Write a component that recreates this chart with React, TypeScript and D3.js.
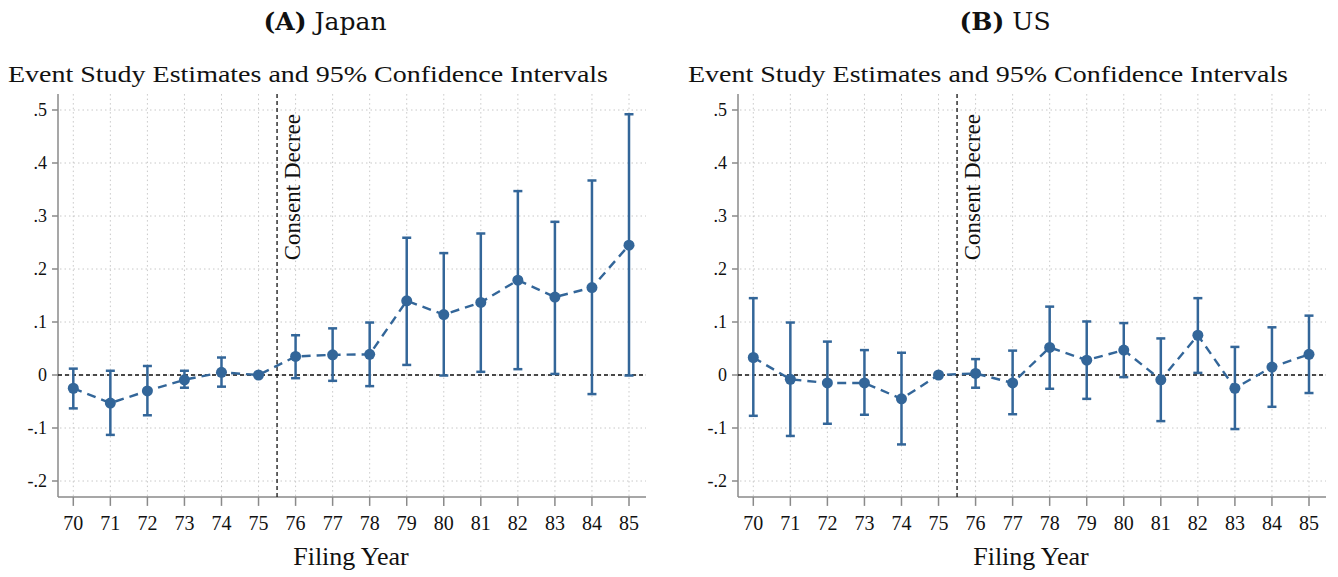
import React from "react";
import * as d3 from "d3";

const years = [70, 71, 72, 73, 74, 75, 76, 77, 78, 79, 80, 81, 82, 83, 84, 85];
const yTicks = [-0.2, -0.1, 0, 0.1, 0.2, 0.3, 0.4, 0.5];
const yTickLabels = ["-.2", "-.1", "0", ".1", ".2", ".3", ".4", ".5"];

const japanEst = [-0.025, -0.053, -0.03, -0.009, 0.005, 0, 0.035, 0.038, 0.039, 0.14, 0.114, 0.137, 0.179, 0.147, 0.165, 0.245];
const japanHi = [0.012, 0.008, 0.017, 0.008, 0.033, 0, 0.075, 0.088, 0.099, 0.259, 0.23, 0.267, 0.347, 0.289, 0.367, 0.492];
const japanLo = [-0.063, -0.113, -0.076, -0.024, -0.022, 0, -0.006, -0.011, -0.021, 0.019, -0.001, 0.006, 0.011, 0.002, -0.036, -0.001];

const usEst = [0.033, -0.008, -0.015, -0.015, -0.045, 0, 0.003, -0.015, 0.052, 0.028, 0.047, -0.009, 0.075, -0.025, 0.015, 0.039];
const usHi = [0.145, 0.099, 0.063, 0.047, 0.042, 0, 0.03, 0.046, 0.129, 0.101, 0.098, 0.069, 0.145, 0.053, 0.09, 0.112];
const usLo = [-0.077, -0.115, -0.092, -0.075, -0.131, 0, -0.024, -0.074, -0.026, -0.045, -0.004, -0.087, 0.004, -0.102, -0.06, -0.034];

const eventYear = 75.5;
const BLUE = "#336699";
const FONT = "'Liberation Serif', 'DejaVu Serif', serif";
const TITLE_FONT = "'DejaVu Serif', 'Liberation Serif', serif";

type PanelProps = {
  dx: number;
  letter: string;
  name: string;
  est: number[];
  hi: number[];
  lo: number[];
};

function Panel({ dx, letter, name, est, hi, lo }: PanelProps) {
  const axisX = 58;
  const plotRight = 646;
  const x = d3.scaleLinear().domain([70, 85]).range([73.3, 629]);
  const y = d3.scaleLinear().domain([-0.2, 0.5]).range([481, 110]);
  const top = y(0.53);
  const bottom = y(-0.23);
  const pts = years.map((yr, i) => ({ yr, e: est[i], h: hi[i], l: lo[i] }));
  const line = d3
    .line<{ yr: number; e: number }>()
    .x((d) => x(d.yr))
    .y((d) => y(d.e));
  const cap = 4.5;
  return (
    <g transform={`translate(${dx},0)`}>
      <text x={325} y={30} fontFamily={TITLE_FONT} fontSize={25} textAnchor="middle" fill="#111">
        <tspan fontWeight="bold">({letter})</tspan>
        <tspan dx={8}>{name}</tspan>
      </text>
      <text x={8} y={82} fontFamily={FONT} fontSize={24} fill="#111" textLength={600} lengthAdjust="spacingAndGlyphs">
        Event Study Estimates and 95% Confidence Intervals
      </text>
      {/* grid */}
      {yTicks.map((t) => (
        <line key={"gy" + t} x1={axisX + 2} x2={plotRight} y1={y(t)} y2={y(t)} stroke="#c8c8c8" strokeWidth={1} strokeDasharray="1.5,3" />
      ))}
      {years.map((yr) => (
        <line key={"gx" + yr} x1={x(yr)} x2={x(yr)} y1={top} y2={bottom - 1} stroke="#c8c8c8" strokeWidth={1} strokeDasharray="1.5,3" />
      ))}
      {/* axes */}
      <line x1={axisX} x2={axisX} y1={top} y2={bottom} stroke="#8a8a8a" strokeWidth={1.5} />
      <line x1={axisX} x2={plotRight} y1={bottom} y2={bottom} stroke="#8a8a8a" strokeWidth={1.5} />
      {yTicks.map((t, i) => (
        <g key={"yt" + t}>
          <line x1={axisX - 6} x2={axisX} y1={y(t)} y2={y(t)} stroke="#8a8a8a" strokeWidth={1.5} />
          <text x={47} y={y(t) + 6} fontFamily={FONT} fontSize={18} textAnchor="end" fill="#111">
            {yTickLabels[i]}
          </text>
        </g>
      ))}
      {years.map((yr) => (
        <g key={"xt" + yr}>
          <line x1={x(yr)} x2={x(yr)} y1={bottom} y2={bottom + 9} stroke="#8a8a8a" strokeWidth={1.5} />
          <text x={x(yr)} y={530} fontFamily={FONT} fontSize={20} textAnchor="middle" fill="#111">
            {yr}
          </text>
        </g>
      ))}
      <text x={351} y={565} fontFamily={FONT} fontSize={26} textAnchor="middle" fill="#111">
        Filing Year
      </text>
      {/* reference lines */}
      <line x1={axisX} x2={plotRight} y1={y(0)} y2={y(0)} stroke="#111" strokeWidth={1.3} strokeDasharray="4,3" />
      <line x1={x(eventYear)} x2={x(eventYear)} y1={top} y2={bottom} stroke="#111" strokeWidth={1.3} strokeDasharray="4,3" />
      <text
        transform={`translate(${x(eventYear) + 22.5},${114}) rotate(-90)`}
        fontFamily={FONT}
        fontSize={23}
        textAnchor="end"
        fill="#111"
      >
        Consent Decree
      </text>
      {/* CIs */}
      {pts.map((p) =>
        p.h === p.l ? null : (
          <g key={"ci" + p.yr} stroke={BLUE} strokeWidth={2.5}>
            <line x1={x(p.yr)} x2={x(p.yr)} y1={y(p.h)} y2={y(p.l)} />
            <line x1={x(p.yr) - cap} x2={x(p.yr) + cap} y1={y(p.h)} y2={y(p.h)} />
            <line x1={x(p.yr) - cap} x2={x(p.yr) + cap} y1={y(p.l)} y2={y(p.l)} />
          </g>
        )
      )}
      <path d={line(pts) || ""} fill="none" stroke={BLUE} strokeWidth={2.4} strokeDasharray="9,6" />
      {pts.map((p) => (
        <circle key={"pt" + p.yr} cx={x(p.yr)} cy={y(p.e)} r={5.5} fill={BLUE} />
      ))}
    </g>
  );
}

export default function App() {
  return (
    <svg width={1338} height={577} style={{ display: "block", position: "absolute", left: 0, top: 0 }}>
      <rect width={1338} height={577} fill="#fff" />
      <Panel dx={0} letter="A" name="Japan" est={japanEst} hi={japanHi} lo={japanLo} />
      <Panel dx={680} letter="B" name="US" est={usEst} hi={usHi} lo={usLo} />
    </svg>
  );
}
